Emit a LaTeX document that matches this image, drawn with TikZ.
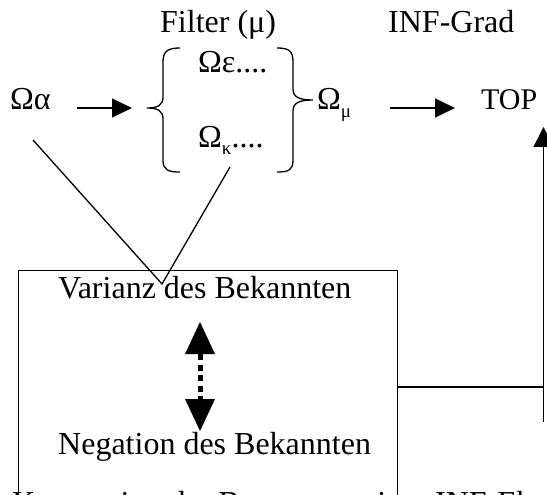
\documentclass[tikz,border=0pt]{standalone}
\usepackage{fontspec}
\setmainfont{Liberation Serif}
\usetikzlibrary{arrows.meta}
\newcommand\sbx[1]{\raisebox{-0.22em}{\fontsize{19}{19}\selectfont #1}}
\begin{document}
\begin{tikzpicture}[x=1pt,y=-1pt,
  lbl/.style={anchor=base west, inner sep=0pt, font=\fontsize{32}{38}\selectfont},
  conn/.style={line width=1.3pt},
  arr/.style={conn, -{Triangle[length=20pt,width=19pt]}},
  dblarr/.style={line width=5pt, dash pattern=on 6pt off 4.5pt,
    {Triangle[length=32pt,width=30pt,line width=0pt]}-{Triangle[length=32pt,width=30pt,line width=0pt]}}
]
\useasboundingbox (0,0) rectangle (547,495);
\clip (0,0) rectangle (547,495);

% texts
\node[lbl] (filter) at (160,33) {Filter (μ)};
\node[lbl] (inf) at (388,33) {INF-Grad};
\node[lbl] (oa) at (10,110) {Ωα};
\node[lbl] (om) at (317,110) {Ω\sbx{μ}};
\node[lbl, font=\fontsize{30}{36}\selectfont] (top) at (481,110) {TOP};
\node[lbl] (oe) at (198,73) {Ωε....};
\node[lbl] (ok) at (198,147) {Ω\sbx{κ}....};
\node[lbl] (var) at (58,298) {Varianz des Bekannten};
\node[lbl] (neg) at (58,454) {Negation des Bekannten};
\node[lbl] (foot) at (12,513) {Konzeption der Bewegung einer INF-Ebene};

% box
\node[draw, conn, anchor=north west, minimum width=379.5pt, minimum height=260pt, inner sep=0pt] (box) at (17.5,269.5) {};

% braces
\draw[conn] (180,48) .. controls (168,48) and (163,51) .. (163,62) -- (163,97)
  .. controls (163,105) and (158,108) .. (147,108)
  .. controls (158,108) and (163,111) .. (163,119) -- (163,160)
  .. controls (163,170) and (168,172) .. (180,172);
\draw[conn] (277,48) .. controls (289,48) and (293,51) .. (293,62) -- (293,89)
  .. controls (293,97) and (299,100) .. (313,100)
  .. controls (299,100) and (293,103) .. (293,111) -- (293,160)
  .. controls (293,170) and (289,172) .. (277,172);

% coordinates
\coordinate (a1s) at (77,108);
\coordinate (a1e) at (132,108);
\coordinate (a2s) at (390,108);
\coordinate (a2e) at (455,108);
\coordinate (vb) at (543.5,422);
\coordinate (vt) at (543.5,127);
\coordinate (hj) at (543.5,387);
\coordinate (v) at (162,284);
\coordinate (la) at (33,140);
\coordinate (lk) at (230,167);
\coordinate (dt) at (200,322);
\coordinate (db) at (200,431);

% connectors
\draw[arr] (a1s) -- (a1e);
\draw[arr] (a2s) -- (a2e);
\draw[conn, -{Triangle[length=20pt,width=20pt]}] (vb) -- (vt);
\draw[conn] (box.east |- hj) -- (hj);
\draw[conn] (la) -- (v) -- (lk);
\draw[dblarr] (dt) -- (db);
\end{tikzpicture}
\end{document}
